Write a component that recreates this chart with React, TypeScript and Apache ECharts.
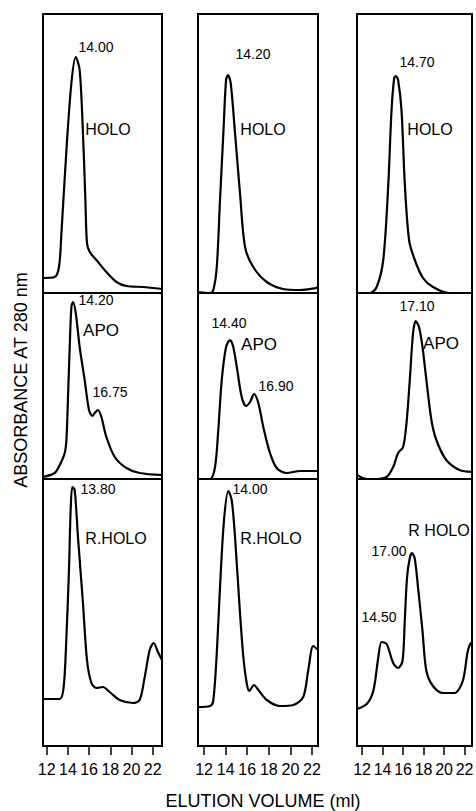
import React, { useEffect, useRef } from "react";
import * as echarts from "echarts";

// ---------- data (elution volume in ml, relative absorbance at 280 nm) ----------
const tickVolumes = [12, 14, 16, 18, 20, 22];

// column 1
const holo1Vol = [11.6, 12.75, 13.16, 13.39, 13.86, 14.33, 14.74, 15.11, 15.42, 15.65, 15.8, 16.06, 16.69, 17.63, 18.58, 19.52, 21.06, 22.88];
const holo1Abs = [15, 16, 26, 60, 143, 210, 236, 223, 160, 93, 50, 41, 33, 21, 11, 7, 6, 4];
const apo1Vol = [11.65, 12.75, 13.23, 13.7, 13.86, 14.01, 14.17, 14.33, 14.48, 14.74, 15.11, 15.58, 15.99, 16.31, 16.53, 16.84, 17.16, 17.63, 18.42, 19.52, 20.77, 22.88];
const apo1Abs = [2, 6, 14, 26, 39, 82, 132, 172, 177, 166, 132, 99, 69, 63, 66, 69, 62, 42, 22, 11, 6, 4];
const rholo1Vol = [11.65, 13.23, 13.6, 13.86, 14.1, 14.26, 14.42, 14.64, 14.95, 15.42, 15.8, 16.22, 16.69, 17.31, 17.94, 18.89, 20.14, 20.77, 21.25, 21.72, 22.09, 22.5, 22.88];
const rholo1Abs = [47, 47, 59, 109, 176, 236, 259, 256, 209, 143, 86, 63, 58, 59, 54, 46, 43, 46, 69, 96, 103, 94, 86];

// column 2
const holo2Vol = [11.44, 12.56, 12.86, 13.18, 13.48, 13.79, 14.04, 14.22, 14.47, 14.87, 15.33, 15.8, 16.56, 17.81, 19.34, 20.89, 22.37, 22.56];
const holo2Abs = [1, 0, 3, 26, 93, 160, 213, 218, 210, 160, 100, 46, 26, 11, 4, 3, 5, 6];
const apo2Vol = [11.44, 12.56, 13.02, 13.32, 13.64, 14.04, 14.41, 14.71, 15.08, 15.49, 15.89, 16.26, 16.63, 17.03, 17.49, 18.11, 18.73, 19.66, 20.89, 22.56];
const apo2Abs = [0, 0, 12, 49, 99, 132, 139, 132, 109, 82, 73, 77, 85, 76, 52, 26, 11, 6, 8, 8];
const rholo2Vol = [11.44, 12.56, 12.86, 13.18, 13.48, 13.85, 14.25, 14.56, 14.87, 15.27, 15.64, 15.95, 16.19, 16.63, 17.03, 17.81, 19.04, 20.27, 21.19, 21.66, 22.12, 22.56];
const rholo2Abs = [39, 40, 46, 93, 159, 226, 255, 246, 209, 143, 89, 63, 55, 61, 56, 46, 40, 41, 49, 76, 100, 96];

// column 3
const holo3Vol = [11.51, 12.78, 13.43, 14.07, 14.55, 14.88, 15.14, 15.3, 15.52, 15.85, 16.17, 16.59, 17.15, 17.95, 18.92, 20.54, 22.73];
const holo3Abs = [0, 0, 6, 33, 106, 183, 215, 217, 213, 183, 110, 53, 33, 15, 6, 0, 0];
const apo3Vol = [11.51, 12.46, 13.43, 14.4, 15.04, 15.52, 16.01, 16.34, 16.66, 16.98, 17.24, 17.56, 17.9, 18.28, 18.77, 19.25, 20.22, 21.51, 22.73];
const apo3Abs = [4, 0, 0, 2, 12, 26, 32, 56, 99, 146, 158, 152, 132, 99, 59, 39, 19, 9, 7];
const rholo3Vol = [11.51, 12.46, 13.1, 13.58, 13.91, 14.4, 15.04, 15.52, 15.95, 16.17, 16.39, 16.66, 16.88, 17.15, 17.47, 17.9, 18.28, 18.92, 19.89, 21.03, 21.83, 22.32, 22.65, 22.73];
const rholo3Abs = [37, 42, 55, 88, 104, 102, 83, 78, 85, 125, 168, 188, 193, 187, 158, 115, 75, 60, 53, 53, 65, 95, 103, 102];

// panel text
const peakTexts = [
  ["14.00", "HOLO", "14.20", "HOLO", "14.70", "HOLO"],
  ["14.20", "APO", "16.75", "14.40", "APO", "16.90", "17.10", "APO"],
  ["13.80", "R.HOLO", "14.00", "R.HOLO", "R HOLO", "17.00", "14.50"],
];
const yTitle = "ABSORBANCE AT 280 nm";
const xTitle = "ELUTION VOLUME (ml)";

// ---------- layout ----------
const colLeft = [43, 198, 357];
const colWidth = [119, 120, 115];
const colMin = [11.65, 11.44, 11.51];
const colMax = [22.88, 22.56, 22.73];
const rowTop = [14, 293, 479];
const rowHeight = [279, 186, 267];

const panels = [
  [[holo1Vol, holo1Abs], [holo2Vol, holo2Abs], [holo3Vol, holo3Abs]],
  [[apo1Vol, apo1Abs], [apo2Vol, apo2Abs], [apo3Vol, apo3Abs]],
  [[rholo1Vol, rholo1Abs], [rholo2Vol, rholo2Abs], [rholo3Vol, rholo3Abs]],
];

// text positions, in the same order as peakTexts: [x, y, fontSize]
const textPos = [
  [[96, 47, 14], [108, 129, 16], [253, 54, 14], [263, 129, 16], [417, 62, 14], [430, 129, 16]],
  [[96, 300, 14], [101, 330, 17], [110, 392, 14], [229, 323, 14], [259, 344, 17], [276, 386, 14], [417, 306, 14], [441, 343, 17]],
  [[98, 489, 14], [116, 538, 16], [250, 489, 14], [271, 538, 16], [439, 530, 16], [389, 551, 14], [379, 617, 14]],
];

const FONT = "'Liberation Sans', Arial, sans-serif";

export default function App() {
  const ref = useRef<HTMLDivElement>(null);

  useEffect(() => {
    if (!ref.current) return;
    const chart = echarts.init(ref.current, null, { renderer: "svg" });

    const grid: any[] = [];
    const xAxis: any[] = [];
    const yAxis: any[] = [];
    const series: any[] = [];

    for (let r = 0; r < 3; r++) {
      for (let c = 0; c < 3; c++) {
        const idx = r * 3 + c;
        const isBottom = r === 2;
        grid.push({
          left: colLeft[c],
          top: rowTop[r],
          width: colWidth[c],
          height: rowHeight[r],
          show: true,
          borderColor: "#000",
          borderWidth: 2,
          backgroundColor: "transparent",
          containLabel: false,
          outerBoundsMode: "none",
        });
        xAxis.push({
          type: "value",
          gridIndex: idx,
          min: colMin[c],
          max: colMax[c],
          show: isBottom,
          splitLine: { show: false },
          axisLine: { show: false },
          axisTick: {
            show: isBottom,
            customValues: tickVolumes,
            length: 9,
            lineStyle: { color: "#000", width: 1.5 },
          },
          axisLabel: {
            show: isBottom,
            customValues: tickVolumes,
            margin: 15,
            color: "#000",
            fontSize: 16,
            fontFamily: FONT,
            hideOverlap: false,
          },
        });
        yAxis.push({
          type: "value",
          gridIndex: idx,
          min: 0,
          max: rowHeight[r],
          show: false,
          splitLine: { show: false },
        });
        const [vol, abs] = panels[r][c];
        series.push({
          type: "line",
          xAxisIndex: idx,
          yAxisIndex: idx,
          data: vol.map((v, i) => [v, abs[i]]),
          showSymbol: false,
          symbol: "none",
          smooth: 0.3,
          lineStyle: { color: "#000", width: 2.2 },
          clip: true,
        });
      }
    }

    const graphic: any[] = [];
    for (let r = 0; r < 3; r++) {
      peakTexts[r].forEach((t, i) => {
        const [x, y, fs] = textPos[r][i];
        graphic.push({
          type: "text",
          x,
          y,
          style: {
            text: t,
            fill: "#000",
            font: `${fs}px ${FONT}`,
            align: "center",
            verticalAlign: "middle",
          },
        });
      });
    }
    graphic.push({
      type: "text",
      x: 21,
      y: 380,
      rotation: Math.PI / 2,
      style: {
        text: yTitle,
        fill: "#000",
        font: `18px ${FONT}`,
        align: "center",
        verticalAlign: "middle",
      },
    });
    graphic.push({
      type: "text",
      x: 263,
      y: 801,
      style: {
        text: xTitle,
        fill: "#000",
        font: `18px ${FONT}`,
        align: "center",
        verticalAlign: "middle",
      },
    });

    chart.setOption({
      animation: false,
      backgroundColor: "#fff",
      grid,
      xAxis,
      yAxis,
      series,
      graphic,
    });

    return () => chart.dispose();
  }, []);

  return (
    <div
      ref={ref}
      style={{ position: "absolute", left: 0, top: 0, width: 476, height: 811 }}
    />
  );
}
